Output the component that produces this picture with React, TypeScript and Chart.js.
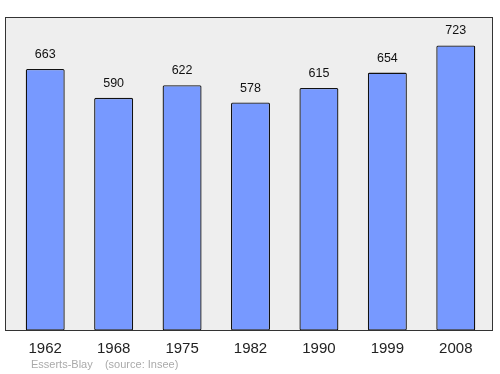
import React, { useEffect, useRef } from "react";
import { Chart, registerables } from "chart.js";

Chart.register(...registerables);

const years = ["1962", "1968", "1975", "1982", "1990", "1999", "2008"];
const population = [663, 590, 622, 578, 615, 654, 723];
const footerText = "Esserts-Blay    (source: Insee)";

const FONT = "'Liberation Sans', Arial, sans-serif";

const FRAME_LEFT_EXTRA = 6;
const FRAME_RIGHT_EXTRA = 2.5;

const decorPlugin = {
  id: "decor",
  beforeDatasetsDraw(chart: any) {
    const { ctx, chartArea } = chart;
    const l = chartArea.left - FRAME_LEFT_EXTRA;
    const r = chartArea.right + FRAME_RIGHT_EXTRA;
    ctx.save();
    ctx.fillStyle = "#eeeeee";
    ctx.fillRect(l, chartArea.top, r - l, chartArea.bottom - chartArea.top);
    ctx.restore();
  },
  afterDatasetsDraw(chart: any) {
    const { ctx, chartArea } = chart;
    const l = chartArea.left - FRAME_LEFT_EXTRA;
    const r = chartArea.right + FRAME_RIGHT_EXTRA;
    ctx.save();
    ctx.strokeStyle = "#333333";
    ctx.lineWidth = 1;
    ctx.strokeRect(Math.round(l) + 0.5, Math.round(chartArea.top) + 0.5, Math.round(r - l) - 1, Math.round(chartArea.bottom - chartArea.top) - 1);
    const meta = chart.getDatasetMeta(0);
    ctx.fillStyle = "#111111";
    ctx.font = `12.5px ${FONT}`;
    ctx.textAlign = "center";
    ctx.textBaseline = "middle";
    meta.data.forEach((bar: any, i: number) => {
      ctx.fillText(String(population[i]), bar.x, bar.y - 14.5);
    });
    ctx.fillStyle = "#aaaaaa";
    ctx.font = `11px ${FONT}`;
    ctx.textAlign = "left";
    ctx.fillText(footerText, 31, 365);
    ctx.restore();
  },
};

export default function App() {
  const ref = useRef<HTMLCanvasElement>(null);
  useEffect(() => {
    if (!ref.current) return;
    const chart = new Chart(ref.current, {
      type: "bar",
      data: {
        labels: years,
        datasets: [
          {
            data: population,
            backgroundColor: "#7799ff",
            borderColor: "#111111",
            borderWidth: 1.3,
            borderSkipped: false,
            borderRadius: 1.5,
            categoryPercentage: 1,
            barPercentage: 0.57,
          },
        ],
      },
      options: {
        animation: false,
        responsive: false,
        maintainAspectRatio: false,
        layout: { padding: { left: 11, right: 10, top: 17, bottom: 7.5 } },
        plugins: { legend: { display: false }, tooltip: { enabled: false } },
        scales: {
          x: {
            grid: { display: false, drawTicks: false },
            border: { display: false },
            ticks: { color: "#222222", font: { size: 15, family: FONT }, padding: 9 },
          },
          y: { display: false, min: 0, max: 795 },
        },
      },
      plugins: [decorPlugin],
    });
    return () => chart.destroy();
  }, []);
  return (
    <div style={{ position: "fixed", left: 0, top: 0, width: 500, height: 374, background: "#fff" }}>
      <canvas ref={ref} width={500} height={374} />
    </div>
  );
}
